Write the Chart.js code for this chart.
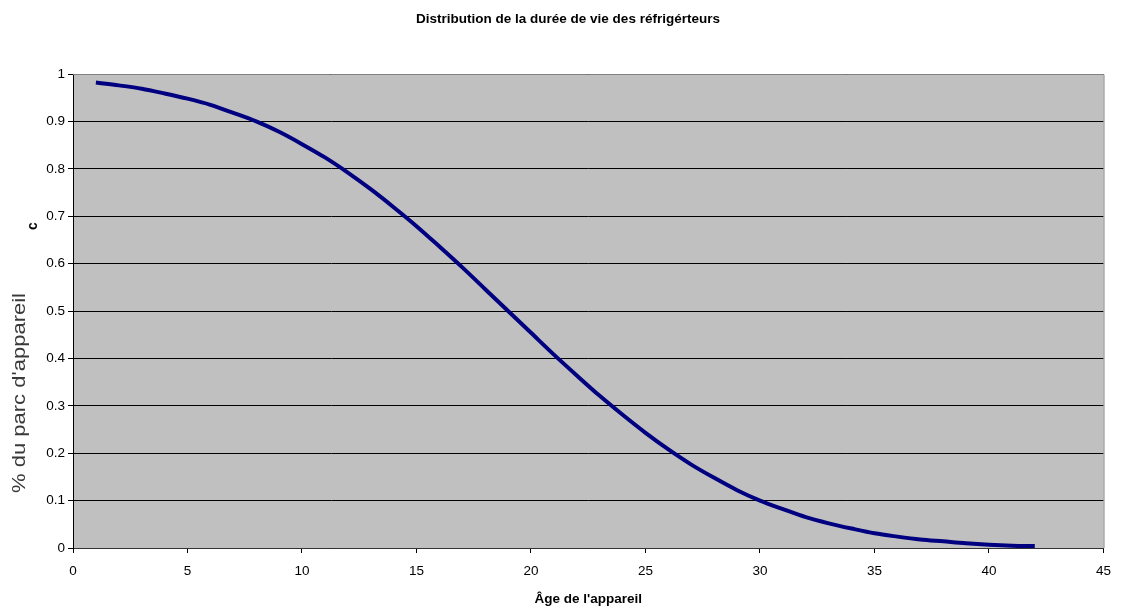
<!DOCTYPE html>
<html>
<head>
<meta charset="utf-8">
<title>Distribution de la durée de vie des réfrigérteurs</title>
<script src="https://cdn.jsdelivr.net/npm/chart.js@4.4.1/dist/chart.umd.min.js"></script>
<style>
  html, body { margin: 0; padding: 0; background: #fff; }
  #wrap { width: 1121px; height: 609px; }
</style>
</head>
<body>
<div id="wrap"><canvas id="chart"></canvas></div>
<script>
// age of the appliance (years)
const ages = [1, 2, 3, 4, 5, 6, 7, 8, 9, 10, 11, 12, 13, 14, 15, 16, 17, 18, 19, 20, 21,
  22, 23, 24, 25, 26, 27, 28, 29, 30, 31, 32, 33, 34, 35, 36, 37, 38, 39, 40, 41, 42];

// share of the appliance stock still in service
const survival = [0.982, 0.976, 0.969, 0.959, 0.948, 0.935, 0.918, 0.900, 0.878, 0.852,
  0.824, 0.792, 0.757, 0.719, 0.679, 0.636, 0.592, 0.546, 0.500, 0.454, 0.408,
  0.364, 0.321, 0.281, 0.243, 0.208, 0.176, 0.148, 0.122, 0.100, 0.082,
  0.065, 0.052, 0.041, 0.031, 0.024, 0.018, 0.014, 0.010, 0.007, 0.005, 0.004];

const chartTitle = "Distribution de la durée de vie des réfrigérteurs";
const xTitle = "Âge de l'appareil";
const yTitle = "% du parc d'appareil";
const yTitleTop = "c";

const FONT = "'Liberation Sans', Arial, sans-serif";

// grey plot area + frame, title and the odd two-part y title
const plotArea = {
  id: "plotArea",
  beforeDraw(chart) {
    const { ctx, chartArea: a } = chart;
    ctx.save();
    ctx.fillStyle = "#c0c0c0";
    ctx.fillRect(a.left, a.top, a.right - a.left, a.bottom - a.top);
    ctx.restore();
  },
  afterDatasetsDraw(chart) {
    const { ctx, chartArea: a } = chart;
    ctx.save();
    ctx.strokeStyle = "#808080";
    ctx.lineWidth = 1;
    ctx.beginPath();
    ctx.moveTo(a.left, a.top + 0.5);
    ctx.lineTo(a.right + 0.5, a.top + 0.5);
    ctx.lineTo(a.right + 0.5, a.bottom);
    ctx.stroke();
    ctx.restore();
  },
  afterDraw(chart) {
    const { ctx } = chart;

    // main title
    ctx.save();
    ctx.textAlign = "center";
    ctx.textBaseline = "middle";
    ctx.fillStyle = "#000";
    ctx.font = "bold 13.5px " + FONT;
    ctx.fillText(chartTitle, 568, 19);
    ctx.restore();

    // y title, stretched along its length like the original
    ctx.save();
    ctx.translate(20, 393);
    ctx.rotate(-Math.PI / 2);
    ctx.font = "18px " + FONT;
    const w = ctx.measureText(yTitle).width;
    ctx.scale(200 / w, 1);
    ctx.textAlign = "center";
    ctx.textBaseline = "middle";
    ctx.fillStyle = "#3a3a3a";
    ctx.fillText(yTitle, 0, 0);
    ctx.restore();

    ctx.save();
    ctx.translate(33, 226);
    ctx.rotate(-Math.PI / 2);
    ctx.textAlign = "center";
    ctx.textBaseline = "middle";
    ctx.fillStyle = "#000";
    ctx.font = "bold 14px " + FONT;
    ctx.fillText(yTitleTop, 0, 0);
    ctx.restore();
  }
};

new Chart(document.getElementById("chart"), {
  type: "line",
  data: {
    datasets: [{
      label: "Survie",
      data: ages.map((a, i) => ({ x: a, y: survival[i] })),
      borderColor: "#000080",
      borderWidth: 4,
      pointRadius: 0,
      cubicInterpolationMode: "monotone",
      fill: false,
    }],
  },
  options: {
    responsive: true,
    maintainAspectRatio: false,
    animation: false,
    layout: { padding: { left: 0, right: 16, top: 74, bottom: 0 } },
    plugins: {
      legend: { display: false },
      tooltip: { enabled: false },
      title: { display: false },
    },
    scales: {
      x: {
        type: "linear",
        min: 0,
        max: 45,
        afterFit: (s) => { s.height = 61; },
        ticks: {
          stepSize: 5,
          color: "#000",
          padding: 10,
          font: { family: FONT, size: 13.5 },
        },
        grid: { drawOnChartArea: false, color: "#000", tickLength: 5 },
        border: { color: "#333", width: 1 },
        title: {
          display: true,
          text: xTitle,
          color: "#000",
          font: { family: FONT, size: 13.5, weight: "bold" },
          padding: { top: 2, bottom: 2 },
        },
      },
      y: {
        min: 0,
        max: 1,
        afterFit: (s) => { s.width = 73; },
        ticks: {
          stepSize: 0.1,
          color: "#000",
          padding: 3,
          font: { family: FONT, size: 13.5 },
          callback: (v) => Math.round(v * 10) / 10,
        },
        grid: { color: "#000", lineWidth: 1, tickLength: 5 },
        border: { color: "#000", width: 1 },
      },
    },
  },
  plugins: [plotArea],
});
</script>
</body>
</html>
